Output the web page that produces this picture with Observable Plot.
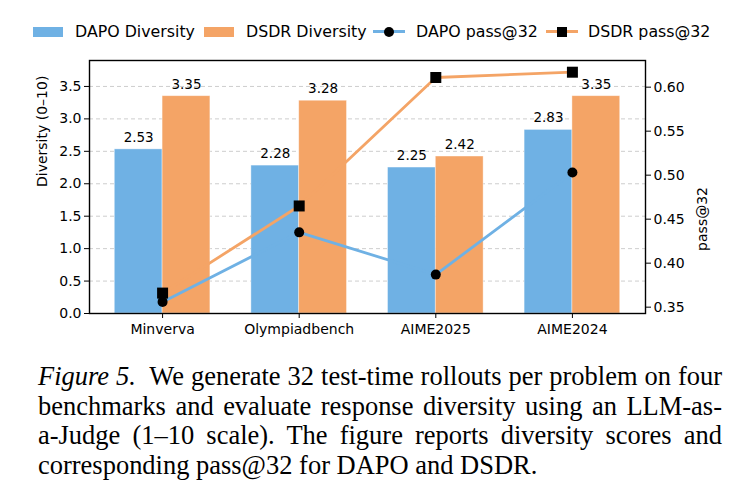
<!DOCTYPE html>
<html><head><meta charset="utf-8">
<script src="https://cdn.jsdelivr.net/npm/d3@7"></script>
<script src="https://cdn.jsdelivr.net/npm/@observablehq/plot@0.6"></script>
<style>
body{margin:0;background:#fff;width:739px;height:502px;overflow:hidden;position:relative;font-family:"DejaVu Sans",sans-serif;color:#000;}
#legend{position:absolute;left:0;top:0;width:739px;height:48px;font-size:15.8px;}
.sw{position:absolute;top:27px;width:30px;height:10px;}
.lt{position:absolute;top:22px;line-height:19px;white-space:nowrap;}
.ln{position:absolute;top:30px;width:32px;height:3px;}
.mk{position:absolute;background:#000;}
#chart{position:absolute;left:0;top:48px;}
#caption{position:absolute;left:38px;top:362px;width:684px;font-family:"Liberation Serif",serif;font-size:24px;line-height:29.7px;}
#caption div{text-align:justify;text-align-last:justify;white-space:nowrap;}
#caption div.last{text-align-last:left;}
</style></head><body>
<div id="legend"></div>
<div id="chart"></div>
<div id="caption"></div>
<script>
const categories = ["Minverva", "Olympiadbench", "AIME2025", "AIME2024"];
const dapoDiversity = [2.53, 2.28, 2.25, 2.83];
const dsdrDiversity = [3.35, 3.28, 2.42, 3.35];
const dapoPass = [0.356, 0.435, 0.387, 0.503];
const dsdrPass = [0.366, 0.465, 0.611, 0.617];
const leftTicks = [0, 0.5, 1.0, 1.5, 2.0, 2.5, 3.0, 3.5];
const rightTicks = [0.35, 0.40, 0.45, 0.50, 0.55, 0.60];
const seriesNames = ["DAPO Diversity", "DSDR Diversity", "DAPO pass@32", "DSDR pass@32"];
const captionLead = "Figure 5.";
const captionLines = [
  "We generate 32 test-time rollouts per problem on four",
  "benchmarks and evaluate response diversity using an LLM-as-",
  "a-Judge (1–10 scale).  The figure reports diversity scores and",
  "corresponding pass@32 for DAPO and DSDR."
];

const BLUE = "#6fb1e4", ORANGE = "#f4a466";
const W = 0.35;

const bars = [];
categories.forEach((c, i) => {
  bars.push({i, s: 0, v: dapoDiversity[i]});
  bars.push({i, s: 1, v: dsdrDiversity[i]});
});
const passRows = (arr) => arr.map((p, i) => ({i, p}));
const p2y = d3.scaleLinear().domain([0.3428, 0.6303]).range([0, 3.9]);

const plot = Plot.plot({
  width: 739, height: 300,
  marginLeft: 89, marginRight: 94, marginTop: 12, marginBottom: 35,
  style: {fontFamily: "DejaVu Sans", fontSize: "14px", color: "#000", background: "white"},
  x: {type: "linear", domain: [-0.535, 3.535]},
  y: {domain: [0, 3.9]},
  marks: [
    Plot.gridY(leftTicks.filter(t => t > 0), {stroke: "#b0b0b0", strokeOpacity: 0.8, strokeDasharray: "4,3", strokeWidth: 0.8}),
    Plot.rectY(bars, {x1: d => d.i - W + d.s * W, x2: d => d.i + d.s * W, y1: 0, y2: "v",
      fill: d => d.s ? ORANGE : BLUE, stroke: "white", strokeOpacity: 0.5, strokeWidth: 0.8}),
    Plot.text(bars, {x: d => d.i - W / 2 + d.s * W, y: "v", text: d => d.v.toFixed(2), dy: -12, fontSize: 13.5, fill: "black"}),
    Plot.line(passRows(dapoPass), {x: "i", y: d => p2y(d.p), stroke: BLUE, strokeWidth: 2.8}),
    Plot.line(passRows(dsdrPass), {x: "i", y: d => p2y(d.p), stroke: ORANGE, strokeWidth: 2.8}),
    Plot.dot(passRows(dapoPass), {x: "i", y: d => p2y(d.p), r: 5, fill: "black", symbol: "circle"}),
    Plot.dot(passRows(dsdrPass), {x: "i", y: d => p2y(d.p), r: 6.2, fill: "black", symbol: "square"}),
    Plot.frame({stroke: "#000", strokeWidth: 1.4}),
    Plot.axisY(leftTicks, {anchor: "left", tickFormat: d3.format(".1f"), tickSize: 5, tickPadding: 3, label: null, fontSize: 14}),
    Plot.axisY(rightTicks.map(p2y), {anchor: "right", tickFormat: v => p2y.invert(v).toFixed(2), tickSize: 5, tickPadding: 3, label: null, fontSize: 14}),
    Plot.axisX(categories.map((c, i) => i), {tickFormat: i => categories[i], tickSize: 5, tickPadding: 6, label: null, fontSize: 14}),
    Plot.text(["Diversity (0–10)"], {frameAnchor: "left", rotate: -90, dx: -47, fontSize: 14, text: d => d}),
    Plot.text(["pass@32"], {frameAnchor: "right", rotate: -90, dx: 57, fontSize: 14, text: d => d})
  ]
});
document.getElementById("chart").appendChild(plot);

// legend
const lg = document.getElementById("legend");
const legendX = [{sw: 33, tx: 75}, {sw: 204, tx: 246}, {sw: 373, tx: 416}, {sw: 546, tx: 588}];
seriesNames.forEach((name, k) => {
  const col = k % 2 ? ORANGE : BLUE;
  const pos = legendX[k];
  if (k < 2) {
    const s = document.createElement("div"); s.className = "sw"; s.style.left = pos.sw + "px"; s.style.background = col; lg.appendChild(s);
  } else {
    const l = document.createElement("div"); l.className = "ln"; l.style.left = pos.sw + "px"; l.style.background = col; lg.appendChild(l);
    const m = document.createElement("div"); m.className = "mk";
    if (k === 2) { m.style.cssText += "left:" + (pos.sw + 11) + "px;top:26.5px;width:10px;height:10px;border-radius:50%;"; }
    else { m.style.cssText += "left:" + (pos.sw + 11) + "px;top:26.5px;width:10px;height:10px;"; }
    lg.appendChild(m);
  }
  const t = document.createElement("div"); t.className = "lt"; t.style.left = pos.tx + "px"; t.textContent = name; lg.appendChild(t);
});

// caption: pick a font size so the justified lines fit the 684px measure
const cap = document.getElementById("caption");
const ctx = document.createElement("canvas").getContext("2d");
const widthAt = (s, italicLead) => {
  ctx.font = "100px 'Liberation Serif'";
  let w = ctx.measureText(s).width;
  if (italicLead) { ctx.font = "italic 100px 'Liberation Serif'"; w += ctx.measureText(captionLead).width; }
  return w;
};
let fs = 30;
captionLines.slice(0, 3).forEach((line, k) => {
  const w = widthAt(k === 0 ? "  " + line : line, k === 0);
  fs = Math.min(fs, 684 / w * 100);
});
cap.style.fontSize = (fs * 0.995) + "px";
captionLines.forEach((line, k) => {
  const d = document.createElement("div");
  if (k === captionLines.length - 1) d.className = "last";
  if (k === 0) {
    const em = document.createElement("i"); em.textContent = captionLead; d.appendChild(em);
    d.appendChild(document.createTextNode("\u00a0 " + line));
  } else d.textContent = line;
  cap.appendChild(d);
});
</script>
</body></html>
